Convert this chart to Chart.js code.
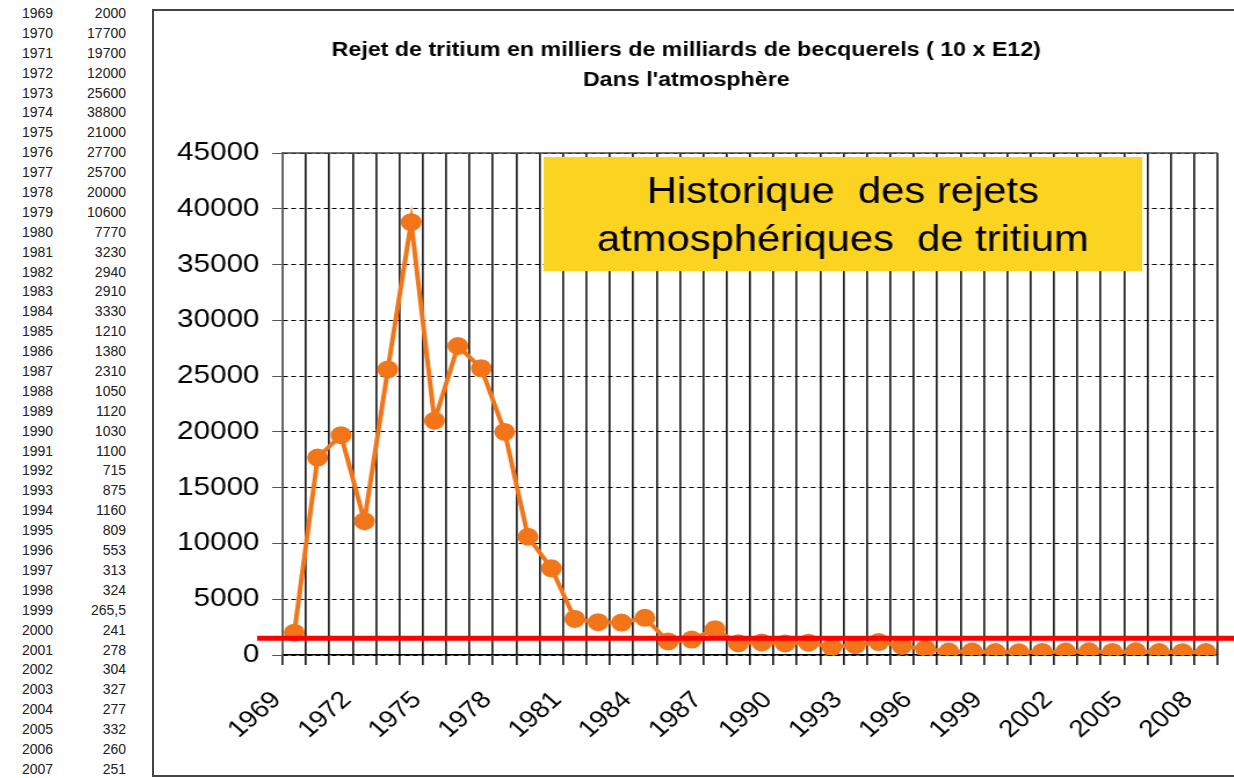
<!DOCTYPE html>
<html>
<head>
<meta charset="utf-8">
<script src="https://cdn.jsdelivr.net/npm/chart.js@4.4.1/dist/chart.umd.min.js"></script>
<style>
body{margin:0;background:#fff;}
#page{position:relative;width:1234px;height:778px;overflow:hidden;font-family:"Liberation Sans",Arial,sans-serif;}
#table{position:absolute;left:0;top:4px;font-size:14px;color:#222;}
#table .row{position:relative;height:19.9px;line-height:19.9px;}
#table .an{position:absolute;left:22px;}
#table .val{position:absolute;left:60px;width:66px;text-align:right;}
#frame{position:absolute;left:152px;top:9px;width:1100px;height:764px;border:2px solid #444;}
#stretch{position:absolute;left:155px;top:10px;width:930px;height:765px;transform:scaleX(1.16);transform-origin:0 0;}
</style>
</head>
<body>
<div id="page">
  <div id="table"></div>
  <div id="frame"></div>
  <div id="stretch"><canvas id="tritiumChart"></canvas></div>
</div>
<script>
// annees et rejets (milliers de milliards de Bq)
var years = [1969,1970,1971,1972,1973,1974,1975,1976,1977,1978,1979,1980,1981,1982,1983,1984,1985,1986,1987,1988,
             1989,1990,1991,1992,1993,1994,1995,1996,1997,1998,1999,2000,2001,2002,2003,2004,2005,2006,2007,2008];
var rejets = [2000,17700,19700,12000,25600,38800,21000,27700,25700,20000,10600,7770,3230,2940,2910,3330,1210,1380,2310,1050,
              1120,1030,1100,715,875,1160,809,553,313,324,265.5,241,278,304,327,277,332,260,251,260];
var yTicks = [0,5000,10000,15000,20000,25000,30000,35000,40000,45000];
var labelEvery = 3;
var seuil = 1500;
var titre = ["Rejet de tritium en milliers de milliards de becquerels ( 10 x E12)", "Dans l'atmosphère"];
var encadre = ["Historique  des rejets", "atmosphériques  de tritium"];

// petit tableau a gauche
var tbl = document.getElementById('table');
years.forEach(function(a, i) {
    var row = document.createElement('div');
    row.className = 'row';
    row.innerHTML = '<span class="an">' + a + '</span><span class="val">' + String(rejets[i]).replace('.', ',') + '</span>';
    tbl.appendChild(row);
});

var fontFam = "'Liberation Sans', Arial, sans-serif";

var decor = {
    id: 'decor',
    afterDatasetsDraw: function(chart) {
        var ctx = chart.ctx, area = chart.chartArea, y = chart.scales.y;
        ctx.save();
        // bord haut du graphe
        ctx.strokeStyle = '#444';
        ctx.lineWidth = 1.5;
        ctx.beginPath();
        ctx.moveTo(area.left, area.top);
        ctx.lineTo(area.right, area.top);
        ctx.stroke();
        // trait rouge
        var yr = y.getPixelForValue(seuil);
        ctx.strokeStyle = '#ff0000';
        ctx.lineWidth = 5;
        ctx.beginPath();
        ctx.moveTo(area.left - 22, yr);
        ctx.lineTo(chart.width, yr);
        ctx.stroke();
        // encadre jaune
        var bx = area.left + 225, by = area.top + 4, bw = 516, bh = 114;
        ctx.fillStyle = '#fbd321';
        ctx.fillRect(bx, by, bw, bh);
        ctx.fillStyle = '#000';
        ctx.font = '36px ' + fontFam;
        ctx.textAlign = 'center';
        ctx.textBaseline = 'middle';
        ctx.fillText(encadre[0], bx + bw / 2, area.top + 40);
        ctx.fillText(encadre[1], bx + bw / 2, area.top + 88);
        ctx.restore();
    }
};

var ctx = document.getElementById('tritiumChart').getContext('2d');
var chart = new Chart(ctx, {
    type: 'line',
    data: {
        labels: years,
        datasets: [{
            label: 'Rejets',
            data: rejets,
            borderColor: '#f27519',
            backgroundColor: '#f27519',
            borderWidth: 4,
            pointRadius: 7,
            pointHoverRadius: 7,
            tension: 0
        }]
    },
    options: {
        responsive: true,
        maintainAspectRatio: false,
        animation: false,
        layout: { padding: { left: 0, right: 14, top: 0, bottom: 0 } },
        plugins: {
            legend: { display: false },
            tooltip: { enabled: false },
            title: {
                display: true,
                text: titre,
                color: '#000',
                font: { family: fontFam, size: 20, weight: 'bold', lineHeight: 1.5 },
                padding: { top: 25, bottom: 58 }
            }
        },
        scales: {
            x: {
                offset: true,
                grid: { offset: true, color: '#222', lineWidth: 1.7, tickLength: 10, tickColor: '#222' },
                border: { color: '#000', width: 1.5 },
                ticks: {
                    autoSkip: false,
                    maxRotation: 45,
                    minRotation: 45,
                    labelOffset: -15,
                    padding: 21,
                    color: '#000',
                    font: { family: fontFam, size: 24 },
                    callback: function(v, i) { return i % labelEvery === 0 ? years[i] : ''; }
                },
                afterFit: function(s) { s.height = 120; s.paddingRight = 0; s.paddingLeft = 0; }
            },
            y: {
                min: 0,
                max: 45000,
                afterBuildTicks: function(s) { s.ticks = yTicks.map(function(v) { return { value: v }; }); },
                grid: { color: '#000', lineWidth: 1, tickLength: 9, tickColor: '#555' },
                border: { color: '#666', width: 1.5, dash: [4, 3] },
                ticks: {
                    padding: 11,
                    color: '#000',
                    font: { family: fontFam, size: 25.5 },
                    callback: function(v) { return v; }
                },
                afterFit: function(s) { s.width = 110; }
            }
        }
    },
    plugins: [decor]
});
</script>
</body>
</html>
